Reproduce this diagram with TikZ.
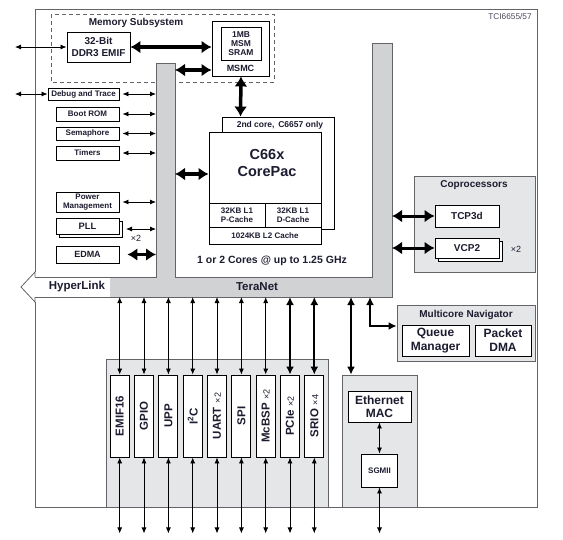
\documentclass[tikz,border=0pt]{standalone}
\usepackage{fontspec}
\setmainfont{Liberation Sans}
\usetikzlibrary{arrows.meta}
\definecolor{txt}{RGB}{28,28,48}
\definecolor{tn}{RGB}{209,210,212}
\definecolor{pg}{RGB}{229,230,231}
\definecolor{edge}{RGB}{100,100,104}
\newcommand\fsz[2]{\fontsize{#1}{#2}\selectfont}
\begin{document}
\begin{tikzpicture}[x=1pt,y=-1pt,
 blk/.style={draw=black,line width=0.9pt,fill=white,inner sep=0pt,align=center,text=txt,font=\bfseries\fsz{8}{9.3}},
 graybox/.style={draw=edge,line width=0.8pt,fill=pg},
 thinarr/.style={<->,>={Latex[length=6pt,width=5pt]},line width=0.8pt},
 bigarr/.style={<->,>={Latex[length=10pt,width=13pt]},line width=3.5pt},
 medarr/.style={<->,>={Latex[length=8pt,width=8pt]},line width=2pt},
 lbl/.style={inner sep=0pt,text=txt,font=\bfseries\fsz{10}{12}},
 vbox/.style={blk,rotate=90,minimum width=82pt,minimum height=19pt,font=\bfseries\fsz{11.5}{13}},
 small/.style={inner sep=0pt,text=txt,font=\fsz{9}{10}},
]
\useasboundingbox (0,0) rectangle (563,539);

% Memory subsystem dashed box
\draw[edge,line width=0.9pt,dash pattern=on 4pt off 3pt] (51,14) rectangle (274,82);
\node[lbl] (memt) at (136,23) {Memory Subsystem};

% TeraNet / HyperLink
\fill[tn] (156,63) -- (175,63) -- (175,277) -- (372,277) -- (372,43) -- (392,43) -- (392,297) -- (110,297) -- (110,277) -- (156,277) -- cycle;
\draw[edge,line width=0.8pt] (35,277) -- (156,277) -- (156,63) -- (175,63) -- (175,277) -- (372,277) -- (372,43) -- (392,43) -- (392,297) -- (35,297);
\draw[edge,line width=0.8pt] (35,277) -- (35,272) -- (21,287) -- (35,302) -- (35,297);
\draw[edge,line width=1pt] (35,272) -- (35,9) -- (537,9) -- (537,507) -- (35,507) -- (35,302);
\node[lbl,font=\bfseries\fsz{11.5}{13}] (hyper) at (77,287) {HyperLink};
\node[lbl,font=\bfseries\fsz{11.5}{13}] (teranet) at (257,287) {TeraNet};
\node[inner sep=0pt,text=txt!80,font=\fsz{8.3}{10}] (tci) at (510,17) {TCI6655/57};

% memory
\node[blk,minimum width=63pt,minimum height=30pt,font=\bfseries\fsz{10}{12.6}] (ddr) at (98.5,47) {32-Bit\\DDR3 EMIF};
\node[blk,minimum width=57pt,minimum height=55pt] (msmc) at (240.5,48.5) {};
\node[blk,minimum width=40pt,minimum height=33pt,font=\bfseries\fsz{8.5}{9.3}] (sram) at (241,43.5) {1MB\\MSM\\SRAM};
\node[lbl,font=\bfseries\fsz{9}{10}] (msmct) at (240.5,68) {MSMC};
\coordinate (ddrext) at (15,47);
\draw[thinarr] (ddrext) -- (ddr.west);
\draw[bigarr] (ddr.east) -- (ddr.east -| msmc.west);
\coordinate (lbar1) at (175,70);
\draw[bigarr] (lbar1) -- (lbar1 -| msmc.west);

% cores
\node[blk,minimum width=112pt,minimum height=112pt] (core2) at (278,173) {};
\node[lbl,font=\bfseries\fsz{8.5}{10}] (core2t) at (280,125) {2nd core,\, C6657 only};
\node[blk,minimum width=112pt,minimum height=112pt] (core) at (265,188) {};
\node[lbl,font=\bfseries\fsz{14.5}{17},align=center] (coret) at (267,163) {C66x\\CorePac};
\node[blk,minimum width=56pt,minimum height=24pt] (l1p) at (237,215) {32KB L1\\P-Cache};
\node[blk,minimum width=56pt,minimum height=24pt] (l1d) at (293,215) {32KB L1\\D-Cache};
\node[blk,minimum width=112pt,minimum height=17pt] (l2) at (265,235.5) {1024KB L2 Cache};
\draw[bigarr] (msmc.south -| sram) -- (msmc.south |- core2.north);
\coordinate (lbar2) at (175,174);
\draw[bigarr] (lbar2) -- (lbar2 -| core.west);
\node[lbl,font=\bfseries\fsz{10.5}{12}] (cores) at (272,261) {1 or 2 Cores @ up to 1.25 GHz};

% left peripherals
\coordinate (lbx) at (156,0);
\node[blk,minimum width=71pt,minimum height=12pt] (dbg) at (83.5,94) {Debug and Trace};
\node[blk,minimum width=63pt,minimum height=14pt] (boot) at (87.5,114) {Boot ROM};
\node[blk,minimum width=63pt,minimum height=13pt] (sema) at (87.5,133.5) {Semaphore};
\node[blk,minimum width=63pt,minimum height=14pt] (tim) at (87.5,153) {Timers};
\node[blk,minimum width=63pt,minimum height=20pt] (pwr) at (87.5,202) {Power\\Management};
\node[blk,minimum width=63pt,minimum height=16pt] (pllsh) at (90.5,229) {};
\node[blk,minimum width=63pt,minimum height=16pt,font=\bfseries\fsz{9.3}{10}] (pll) at (87.5,226) {PLL};
\node[blk,minimum width=63pt,minimum height=17pt,font=\bfseries\fsz{9}{10}] (edma) at (87.5,254.5) {EDMA};
\coordinate (dbgext) at (15,94);
\draw[thinarr] (dbgext) -- (dbg.west);
\draw[thinarr] ([xshift=3pt]dbg.east) -- (dbg.east -| lbx);
\draw[thinarr] ([xshift=3pt]boot.east) -- (boot.east -| lbx);
\draw[thinarr] ([xshift=3pt]sema.east) -- (sema.east -| lbx);
\draw[thinarr] ([xshift=3pt]tim.east) -- (tim.east -| lbx);
\draw[thinarr] ([xshift=3pt]pwr.east) -- (pwr.east -| lbx);
\coordinate (pllarr) at (126,229);
\draw[thinarr] (pllarr) -- (pllarr -| lbx);
\node[small] (pllx) at (136,238.5) {×2};
\draw[bigarr,line width=3pt] ([xshift=8pt]edma.east) -- (edma.east -| lbx);

% coprocessors
\node[graybox,minimum width=121pt,minimum height=96pt,inner sep=0pt] (cop) at (474.5,224) {};
\node[lbl] (copt) at (474,185.5) {Coprocessors};
\node[blk,minimum width=64pt,minimum height=22pt,font=\bfseries\fsz{10}{12}] (tcp) at (467,216) {TCP3d};
\node[blk,minimum width=64pt,minimum height=20pt] (vcpsh) at (470.5,251.5) {};
\node[blk,minimum width=64pt,minimum height=20pt,font=\bfseries\fsz{10}{12}] (vcp) at (467,248) {VCP2};
\node[small] (vcpx) at (516,249) {×2};
\coordinate (rbx) at (392,0);
\draw[bigarr,line width=3pt] (tcp.west -| rbx) -- (tcp.west);
\draw[bigarr,line width=3pt] (vcp.west -| rbx) -- (vcp.west);

% multicore navigator
\node[graybox,minimum width=138pt,minimum height=56pt,inner sep=0pt] (nav) at (466,333) {};
\node[lbl] (navt) at (466,314.5) {Multicore Navigator};
\node[blk,minimum width=67pt,minimum height=31pt,font=\bfseries\fsz{12}{14}] (qm) at (435.5,340.5) {Queue\\Manager};
\node[blk,minimum width=56pt,minimum height=31pt,font=\bfseries\fsz{12}{14}] (pdma) at (503,340.5) {Packet\\DMA};
\coordinate (tnb) at (0,297);
\coordinate (navs) at (370,297);
\draw[medarr] (navs) -- (370,326) -- (nav.west |- 0,326);

% peripherals
\node[graybox,minimum width=222pt,minimum height=148pt,inner sep=0pt] (per) at (217,433) {};
\node[vbox] (p1) at (119.7,416) {EMIF16};
\node[vbox] (p2) at (144.0,416) {GPIO};
\node[vbox] (p3) at (168.4,416) {UPP};
\node[vbox] (p4) at (192.7,416) {I\textsuperscript{2}C};
\node[vbox] (p5) at (217.0,416) {UART\,\,{\mdseries\fsz{9}{10}×2}};
\node[vbox] (p6) at (241.4,416) {SPI};
\node[vbox] (p7) at (265.7,416) {McBSP\,\,{\mdseries\fsz{9}{10}×2}};
\node[vbox] (p8) at (290.0,416) {PCIe\,\,{\mdseries\fsz{9}{10}×2}};
\node[vbox] (p9) at (314.3,416) {SRIO\,\,{\mdseries\fsz{9}{10}×4}};
\foreach \n in {p1,p2,p3,p4,p5,p6,p7}{
  \draw[thinarr] (\n.east |- tnb) -- (\n.east);
}
\foreach \n in {p8,p9}{
  \draw[medarr] (\n.east |- tnb) -- (\n.east);
}
\foreach \n in {p1,p2,p3,p4,p5,p6,p7,p8,p9}{
  \draw[thinarr] (\n.west) -- ++(0,76);
}

% ethernet
\node[graybox,minimum width=75pt,minimum height=132pt,inner sep=0pt] (eth) at (379.5,441) {};
\node[blk,minimum width=63pt,minimum height=31pt,font=\bfseries\fsz{12}{13}] (mac) at (379.5,406.5) {Ethernet\\MAC};
\node[blk,minimum width=36pt,minimum height=33pt] (sgmii) at (379.5,470.5) {SGMII};
\draw[thinarr] (mac.south) -- (sgmii.north);
\draw[thinarr] (sgmii.south) -- ++(0,46);
\coordinate (eths) at (351,297);
\draw[medarr] (eths) -- (eths |- eth.north);
\end{tikzpicture}
\end{document}
